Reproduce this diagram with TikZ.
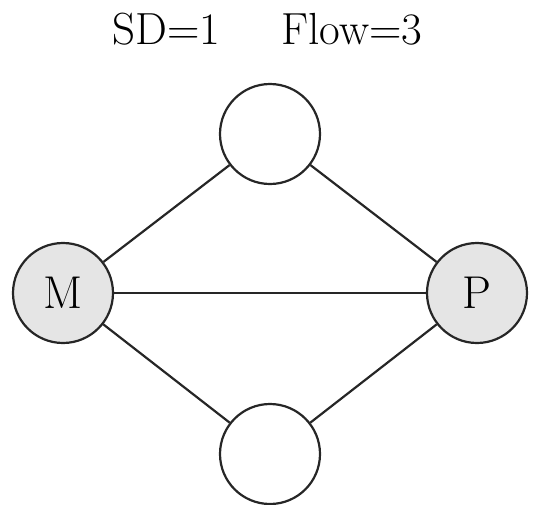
\documentclass[tikz,border=0pt]{standalone}
\usepackage{fontspec}
\begin{document}
\begin{tikzpicture}[x=1pt,y=-1pt,
  vert/.style={circle,draw=black!85,line width=2.2pt,minimum size=100pt,inner sep=0pt,font=\fontsize{46}{50}\selectfont},
  term/.style={vert,fill=black!10},
  edge/.style={line width=2.2pt,draw=black!85},
  lab/.style={anchor=base west,inner sep=0pt,font=\fontsize{45}{50}\selectfont}]
\useasboundingbox (0,0) rectangle (535,504);
\node[lab] (sd) at (112,44) {SD=1};
\node[lab] (fl) at (281,44) {Flow=3};
\node[vert] (t) at (270,134) {};
\node[term] (m) at (63,293) {M};
\node[term] (p) at (477,293) {P};
\node[vert] (b) at (270,454) {};
\draw[edge] (m) -- (t);
\draw[edge] (t) -- (p);
\draw[edge] (m) -- (p);
\draw[edge] (m) -- (b);
\draw[edge] (b) -- (p);
\end{tikzpicture}
\end{document}
